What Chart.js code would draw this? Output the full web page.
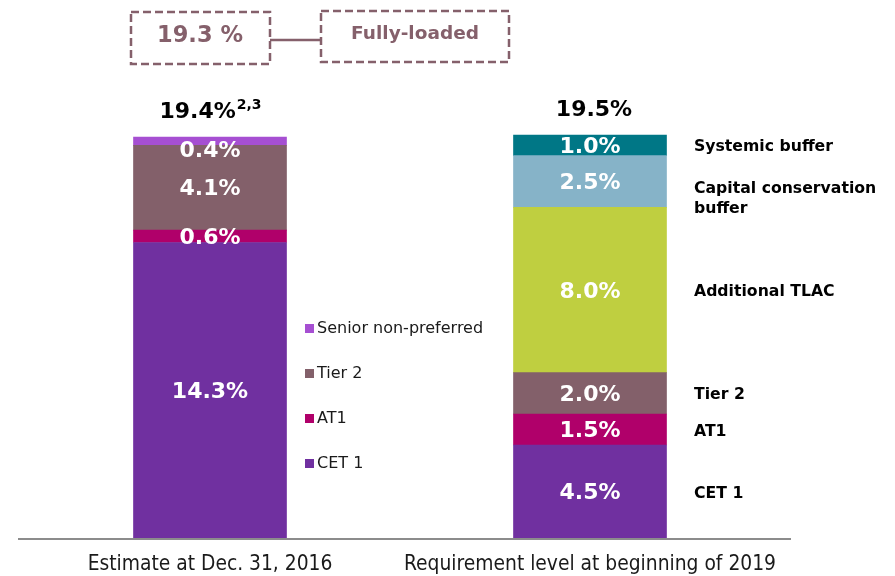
<!DOCTYPE html>
<html>
<head>
<meta charset="utf-8">
<script src="https://cdn.jsdelivr.net/npm/chart.js@4"></script>
<style>
  html, body { margin: 0; padding: 0; background: #fff; }
  #wrap { width: 895px; height: 576px; position: relative; }
</style>
</head>
<body>
<div id="wrap"><canvas id="c" width="895" height="576"></canvas></div>
<script>
// ---- data ----
const categories = ["Estimate at Dec. 31, 2016", "Requirement level at beginning of 2019"];
const seriesNames = ["CET 1", "AT1", "Tier 2", "Senior non-preferred", "Additional TLAC", "Capital conservation buffer", "Systemic buffer"];
const cet1 = [14.3, 4.5];
const at1 = [0.6, 1.5];
const tier2 = [4.1, 2.0];
const seniorNonPreferred = [0.4, null];
const additionalTLAC = [null, 8.0];
const capitalConservation = [null, 2.5];
const systemicBuffer = [null, 1.0];
const totalLabels = ["19.4%", "19.5%"];
const totalSup = ["2,3", ""];
const fullyLoadedValue = "19.3 %";
const fullyLoadedLabel = "Fully-loaded";
const legendNames = ["Senior non-preferred", "Tier 2", "AT1", "CET 1"];
const rightLabels = [["CET 1"], ["AT1"], ["Tier 2"], ["Additional TLAC"], ["Capital conservation", "buffer"], ["Systemic buffer"]];

const colors = {
  "CET 1": "#7030A0",
  "AT1": "#B0006A",
  "Tier 2": "#83606A",
  "Senior non-preferred": "#A64FD2",
  "Additional TLAC": "#BFCF40",
  "Capital conservation buffer": "#86B3C8",
  "Systemic buffer": "#007786"
};
const seriesData = [cet1, at1, tier2, seniorNonPreferred, additionalTLAC, capitalConservation, systemicBuffer];

const FONT = "'DejaVu Sans', Verdana, sans-serif";
const MAUVE = "#85606B";

const datasets = seriesNames.map((n, i) => ({
  label: n,
  data: seriesData[i],
  backgroundColor: colors[n],
  borderWidth: 0,
  barThickness: 153,
  stack: "s"
}));

const overlay = {
  id: "overlay",
  afterDatasetsDraw(chart) {
    const ctx = chart.ctx;
    const x = chart.scales.x, y = chart.scales.y;
    const area = chart.chartArea;
    ctx.save();
    // axis line
    ctx.strokeStyle = "#8C8C8C";
    ctx.lineWidth = 2;
    ctx.beginPath();
    ctx.moveTo(18, area.bottom + 1);
    ctx.lineTo(791, area.bottom + 1);
    ctx.stroke();

    // segment value labels
    ctx.fillStyle = "#fff";
    ctx.font = "bold 22px " + FONT;
    ctx.textAlign = "center";
    ctx.textBaseline = "middle";
    chart.data.datasets.forEach((ds, di) => {
      const meta = chart.getDatasetMeta(di);
      meta.data.forEach((bar, i) => {
        const v = ds.data[i];
        if (v == null) return;
        let cy = (bar.y + bar.base) / 2;
        if (Math.abs(bar.base - bar.y) < 14 && ds.label === "Senior non-preferred") cy += 8;
        ctx.fillText(v.toFixed(1) + "%", bar.x, cy + 2);
      });
    });

    // totals above bars
    ctx.fillStyle = "#000";
    categories.forEach((c, i) => {
      let top = Infinity;
      chart.data.datasets.forEach((ds, di) => {
        const b = chart.getDatasetMeta(di).data[i];
        if (ds.data[i] != null && b) top = Math.min(top, b.y);
      });
      const cx = x.getPixelForValue(i);
      ctx.font = "bold 22px " + FONT;
      const w1 = ctx.measureText(totalLabels[i]).width;
      ctx.font = "bold 14px " + FONT;
      const w2 = totalSup[i] ? ctx.measureText(totalSup[i]).width : 0;
      const start = cx - (w1 + w2) / 2 + (i === 1 ? 4 : 0);
      ctx.textAlign = "left";
      ctx.font = "bold 22px " + FONT;
      ctx.fillText(totalLabels[i], start, top - 25);
      if (totalSup[i]) {
        ctx.font = "bold 14px " + FONT;
        ctx.fillText(totalSup[i], start + w1 + 1, top - 32);
      }
    });

    // right-side labels for the second bar
    ctx.textAlign = "left";
    ctx.font = "bold 15.7px " + FONT;
    ctx.fillStyle = "#000";
    const rightSeries = [0, 1, 2, 4, 5, 6];
    rightSeries.forEach((di, k) => {
      const b = chart.getDatasetMeta(di).data[1];
      const cy = (b.y + b.base) / 2;
      const lines = rightLabels[k];
      const off = lines.length > 1 ? 7 : 2;
      lines.forEach((t, j) => ctx.fillText(t, 694, cy + off + j * 20));
    });

    // legend
    ctx.font = "16px " + FONT;
    legendNames.forEach((n, k) => {
      const ly = 329 + k * 45;
      ctx.fillStyle = colors[n];
      ctx.fillRect(305, ly - 5, 9, 9);
      ctx.fillStyle = "#1a1a1a";
      ctx.fillText(n, 317, ly);
    });

    // fully-loaded boxes
    ctx.strokeStyle = MAUVE;
    ctx.lineWidth = 2.5;
    ctx.setLineDash([8, 4]);
    ctx.strokeRect(131, 12, 139, 52);
    ctx.strokeRect(321, 11, 188, 51);
    ctx.setLineDash([]);
    ctx.beginPath();
    ctx.moveTo(270, 40);
    ctx.lineTo(321, 40);
    ctx.stroke();
    ctx.fillStyle = MAUVE;
    ctx.textAlign = "center";
    ctx.font = "bold 22.5px " + FONT;
    ctx.fillText(fullyLoadedValue, 200, 36);
    ctx.font = "bold 18.5px " + FONT;
    ctx.fillText(fullyLoadedLabel, 415, 34);
    ctx.restore();
  }
};

new Chart(document.getElementById("c"), {
  type: "bar",
  data: { labels: categories, datasets },
  options: {
    responsive: false,
    animation: false,
    layout: { padding: { left: 20, right: 115, top: 104, bottom: 2 } },
    plugins: { legend: { display: false }, tooltip: { enabled: false } },
    scales: {
      x: {
        stacked: true,
        grid: { display: false, drawTicks: false },
        border: { display: false },
        afterFit(scale) { scale.height = 36; },
        ticks: { color: "#1a1a1a", padding: 14, font: { family: "'DejaVu Sans Condensed', 'DejaVu Sans', sans-serif", size: 20.8 } }
      },
      y: {
        stacked: true,
        display: false,
        min: 0,
        max: 21
      }
    }
  },
  plugins: [overlay]
});
</script>
</body>
</html>
